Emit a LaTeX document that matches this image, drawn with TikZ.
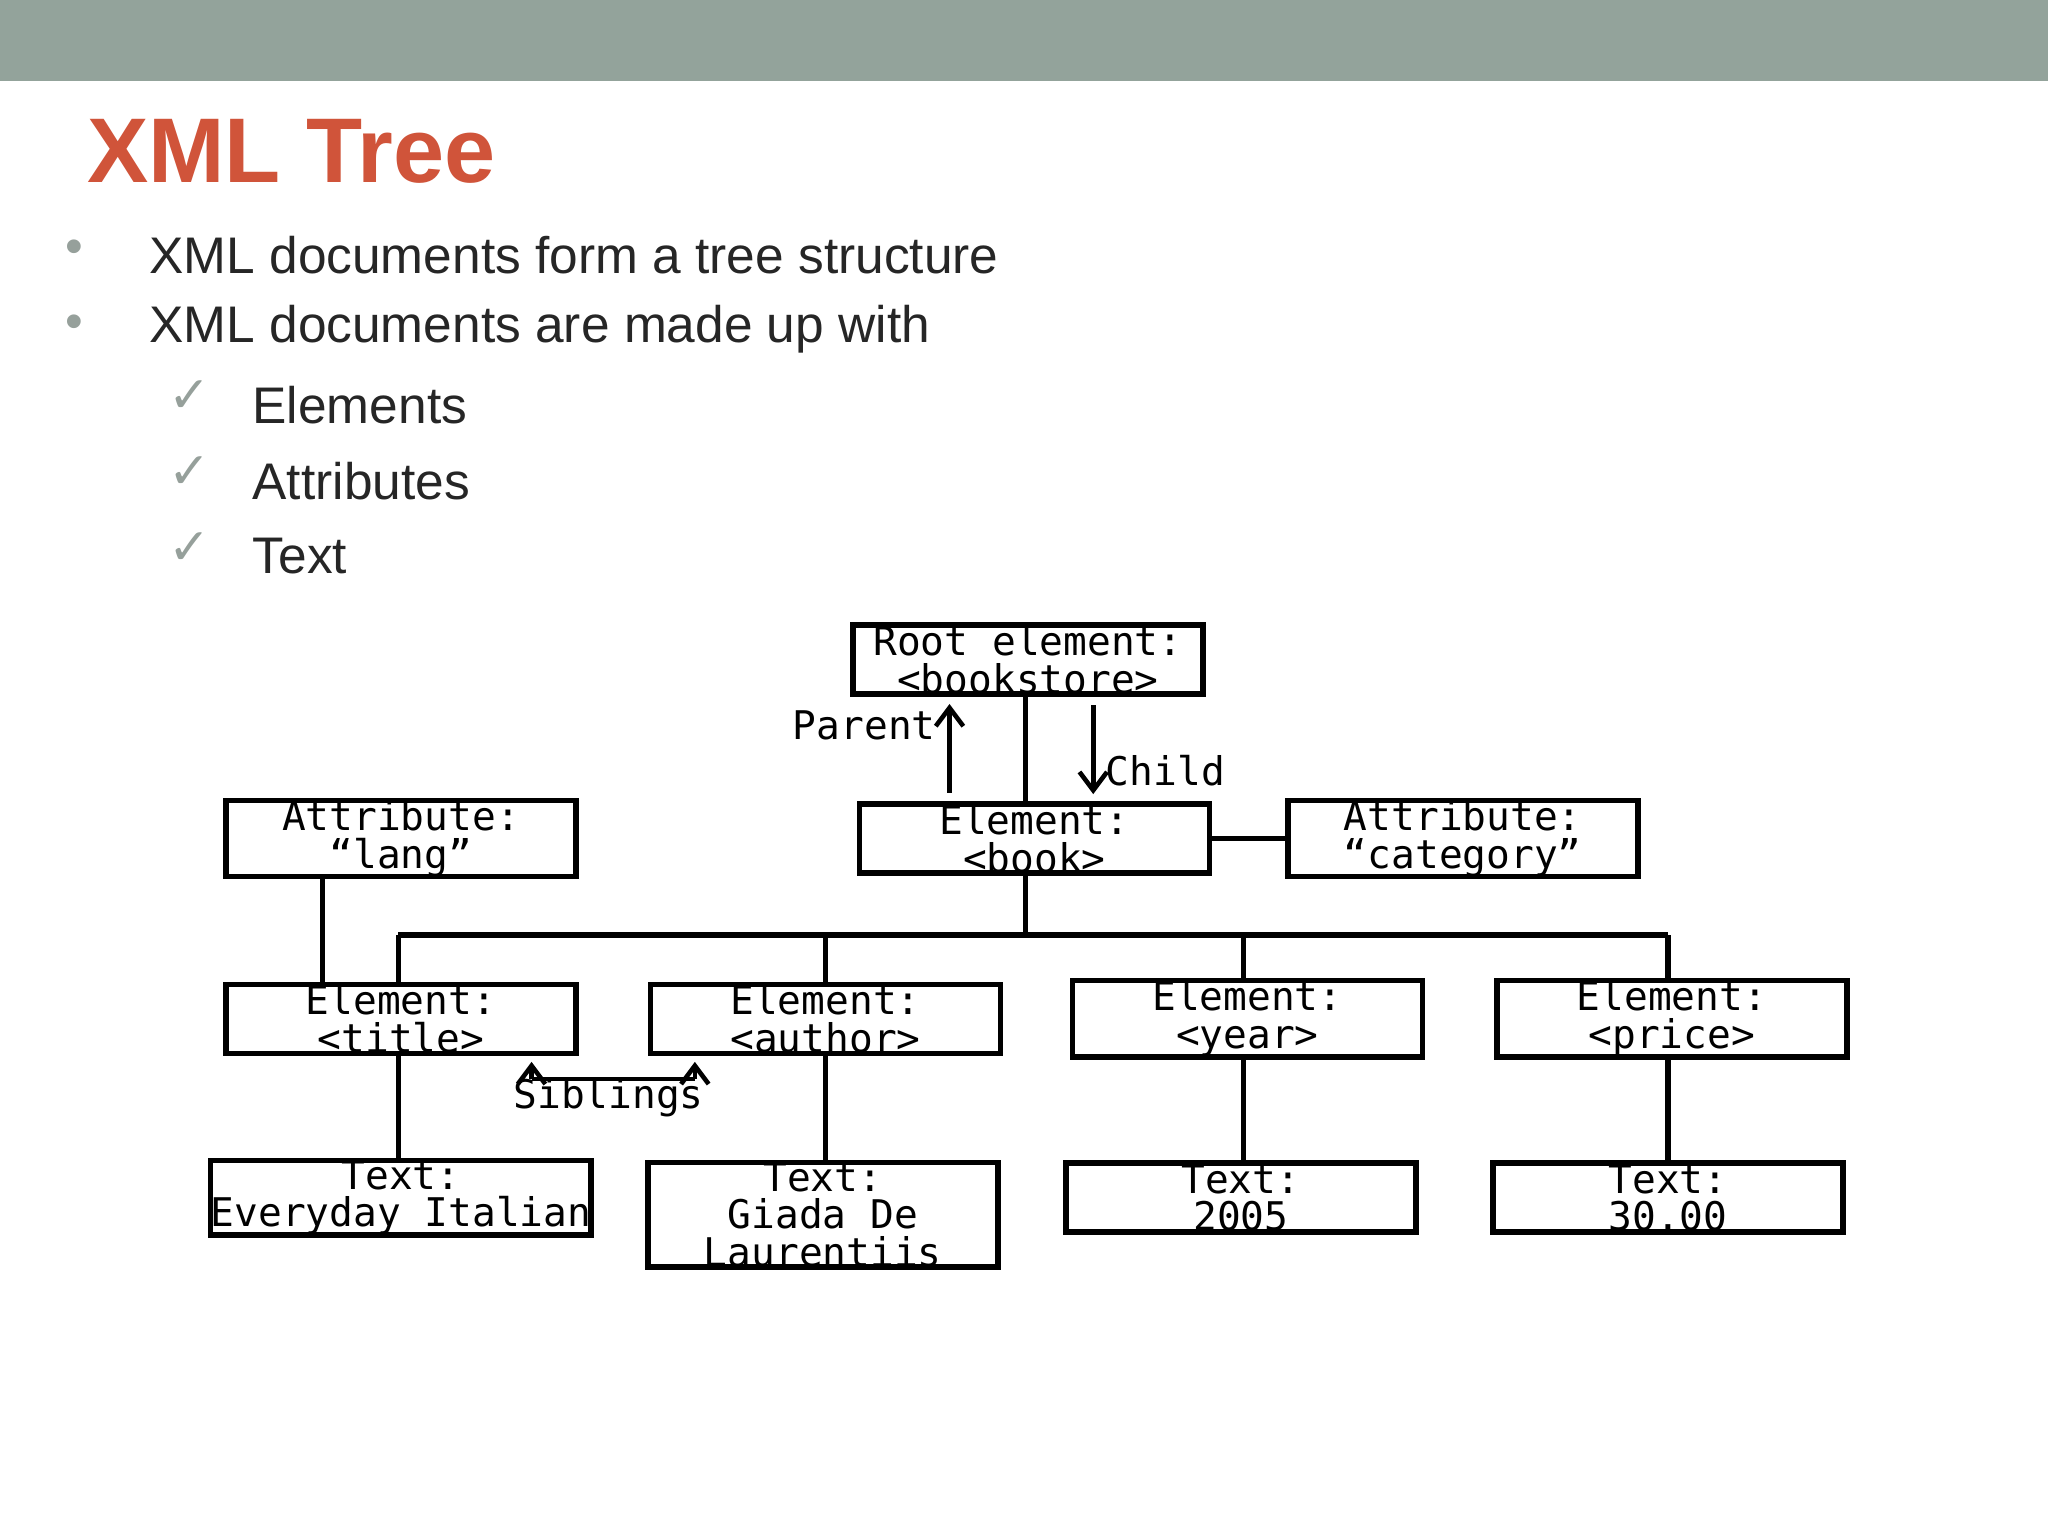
\documentclass[tikz,border=0pt]{standalone}
\usepackage{fontspec}
\setmainfont{Liberation Sans}
\newfontfamily\boxfont{DejaVu Sans Mono}
\newfontfamily\dejavu{DejaVu Sans}
\usetikzlibrary{arrows.meta}
\definecolor{bar}{RGB}{147,163,155}
\definecolor{ttl}{RGB}{208,84,58}
\definecolor{txt}{RGB}{38,38,38}
\definecolor{mark}{RGB}{150,160,155}
\begin{document}
\begin{tikzpicture}[x=0.01cm,y=-0.01cm,
  bx/.style={draw,line width=1.2pt,inner sep=0pt,align=center,font=\boxfont\fontsize{8.6}{8.2}\selectfont},
  ln/.style={line width=1.2pt},
  ar/.style={line width=1pt,-{Straight Barb[length=4pt,width=6pt]}},
  bul/.style={anchor=west,text=txt,font=\fontsize{11.2}{13}\selectfont}]
\useasboundingbox (0,0) rectangle (1568,1176);
\fill[bar] (0,0) rectangle (1568,62);
\node[anchor=base west,text=ttl,font=\bfseries\fontsize{20}{24}\selectfont,inner sep=0] (title) at (66,140) {XML Tree};
\foreach \y/\t in {195/XML documents form a tree structure,252/XML documents are made up with}{
  \node[text=mark,font=\fontsize{11}{13}\selectfont] at (57,\y-2) {•};
  \node[bul] at (102,\y) {\t};}
\foreach \y/\t in {310/Elements,368/Attributes,426/Text}{
  \node[text=mark,font=\dejavu\fontsize{11}{13}\selectfont] at (145,\y-6) {✓};
  \node[bul] at (181,\y) {\t};}
% boxes
\newcommand\bxat[6]{\node[bx,minimum width=#3*1cm/100-1.2pt,minimum height=#4*1cm/100-1.2pt] (#5) at (#1,#2) {#6};}
\bxat{787}{505}{272}{57}{root}{Root element:\\<bookstore>}
\bxat{792}{642}{272}{57}{book}{Element:\\<book>}
\bxat{307}{642}{272}{57}{lang}{Attribute:\\“lang”}
\bxat{1120}{642}{272}{57}{cat}{Attribute:\\“category”}
\bxat{307}{780}{272}{57}{titl}{Element:\\<title>}
\bxat{632}{780}{272}{57}{auth}{Element:\\<author>}
\bxat{955}{780}{272}{57}{year}{Element:\\<year>}
\bxat{1280}{780}{272}{57}{price}{Element:\\<price>}
\bxat{307}{917}{272}{57}{t1}{Text:\\Everyday Italian}
\bxat{630}{930}{272}{84}{t2}{Text:\\Giada De\\Laurentiis}
\bxat{950}{917}{272}{57}{t3}{Text:\\2005}
\bxat{1277}{917}{272}{57}{t4}{Text:\\30.00}
% connectors
\draw[ln] (root.south -| 785,0) -- (book.north -| 785,0);
\draw[ln] (book.south -| 785,0) -- (785,716) coordinate (bus);
\draw[ln] (305,716) -- (1277,716);
\foreach \x/\n in {305/titl,632/auth,952/year,1277/price}
  \draw[ln] (\x,716) -- (\n.north -| \x,0);
\draw[ln] (lang.south -| 247,0) -- (titl.north -| 247,0);
\draw[ln] (book.east) -- (cat.west);
\draw[ln] (titl.south -| 305,0) -- (t1.north -| 305,0);
\draw[ln] (auth.south -| 632,0) -- (t2.north -| 632,0);
\draw[ln] (year.south -| 952,0) -- (t3.north -| 952,0);
\draw[ln] (price.south -| 1277,0) -- (t4.north -| 1277,0);
% parent/child
\draw[ar] (727,607) -- (727,539);
\draw[ar] (837,540) -- (837,608);
\node[anchor=east,font=\boxfont\fontsize{8.6}{10}\selectfont,inner sep=0] (par) at (717,555) {Parent};
\node[anchor=west,font=\boxfont\fontsize{8.6}{10}\selectfont,inner sep=0] (chd) at (846,590) {Child};
% siblings
\draw[line width=1pt] (407,826) -- (532,826);
\draw[ar] (407,826) -- (407,813);
\draw[ar] (532,826) -- (532,813);
\node[font=\boxfont\fontsize{8.6}{10}\selectfont,inner sep=0] (sib) at (466,840) {Siblings};
\end{tikzpicture}
\end{document}
